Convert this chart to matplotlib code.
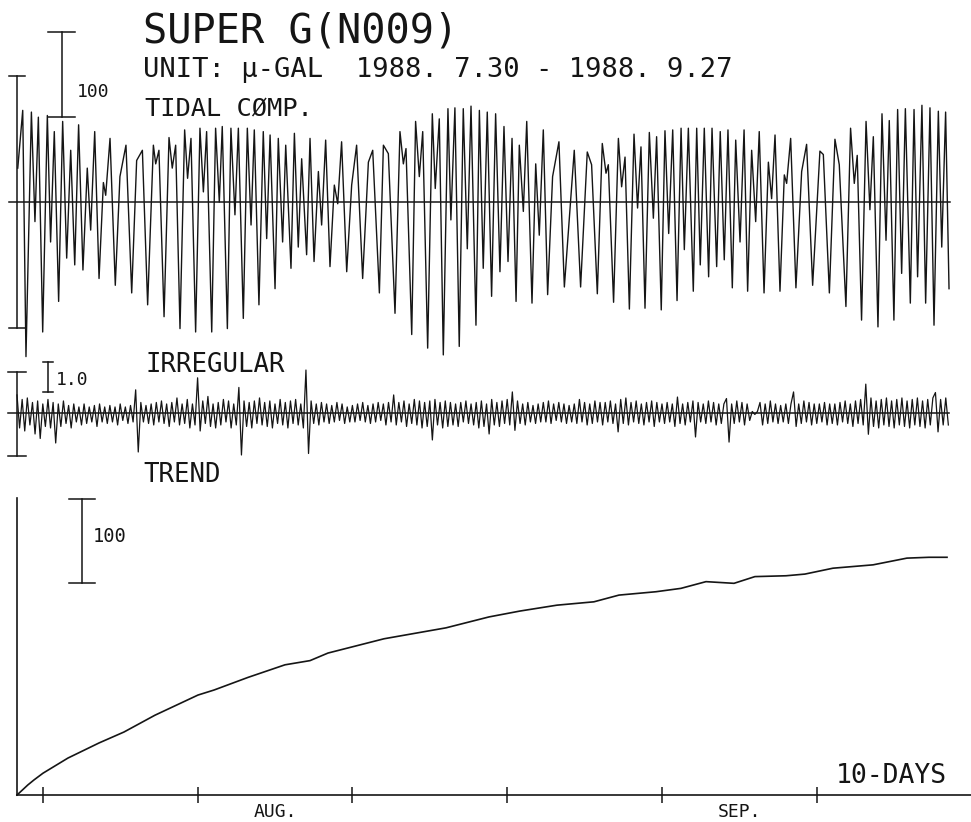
import numpy as np
import matplotlib
matplotlib.use("Agg")
import matplotlib.pyplot as plt

W, H = 971, 822
INK = "#151515"
plt.rcParams['font.family'] = ['DejaVu Sans Mono', 'DejaVu Sans']

# ---- data (days from record start, values in micro-gal) ----
START = np.datetime64('1988-07-30T08:00')

# tidal component: turning points
TIDE_DAY = [
    0.05, 0.37, 0.58, 0.93, 1.16, 1.38, 1.66, 1.96, 2.17, 2.41,
    2.69, 2.95, 3.21, 3.47, 3.73, 3.98, 4.26, 4.54, 4.76, 5.02,
    5.30, 5.58, 5.73, 6.01, 6.35, 6.65, 7.04, 7.41, 7.73, 8.10,
    8.44, 8.81, 8.96, 9.17, 9.50, 9.82, 10.03, 10.25, 10.53, 10.83,
    11.02, 11.24, 11.54,
    11.82, 12.04, 12.25, 12.58, 12.83, 13.07, 13.26, 13.59, 13.82, 14.08,
    14.30, 14.62, 14.88, 15.12, 15.33, 15.63, 15.91, 16.13, 16.35, 16.67,
    16.88, 17.16, 17.36, 17.70, 17.92, 18.17, 18.39, 18.71, 18.93, 19.19,
    19.47, 19.68, 19.94, 20.22, 20.50, 20.72, 20.97, 21.30, 21.62, 21.94,
    22.33, 22.70, 22.98, 23.41, 23.67,
    23.99, 24.42, 24.74, 24.96, 25.13, 25.50, 25.75, 25.99, 26.21, 26.53,
    26.83, 27.02, 27.28, 27.54, 27.84, 28.03, 28.29, 28.57, 28.83, 29.09,
    29.33, 29.65, 29.87, 30.12, 30.38, 30.66, 30.92, 31.20, 31.46, 31.72,
    31.98, 32.24, 32.45, 32.71, 32.93, 33.27, 33.51, 33.74, 34.00, 34.28,
    34.60, 35.01, 35.36,
    36.00, 36.41, 36.84, 37.12, 37.49, 37.81, 38.05, 38.20, 38.54, 38.85,
    39.06, 39.28, 39.56, 39.86, 40.09, 40.31, 40.57, 40.85, 41.11, 41.32,
    41.62, 41.86, 42.10, 42.36, 42.64, 42.90, 43.11, 43.37, 43.69, 43.91,
    44.14, 44.40, 44.68, 44.90, 45.20, 45.43, 45.69, 45.93, 46.21, 46.43,
    46.71, 46.97, 47.20, 47.46,
    47.72, 47.95, 48.26, 48.54, 48.75, 48.97, 49.29, 49.57, 49.72, 49.98,
    50.32, 50.69, 51.01, 51.40, 51.87, 52.09, 52.48, 52.84, 53.12, 53.55,
    53.85, 54.09, 54.28, 54.56, 54.85, 55.10, 55.32, 55.62, 55.88, 56.14,
    56.35, 56.65, 56.89, 57.15, 57.39, 57.71, 57.95, 58.18, 58.46, 58.70,
    58.98, 59.24, 59.52, 59.74, 59.99, 60.21,
]
TIDE_VAL = [
    40, 108, -182, 106, -23, 100, -153, 102, -47, 83,
    -117, 95, -66, 61, -74, 91, -80, 40, -33, 83,
    -90, 23, 8, 75, -98, 30, 67, -107, 49, 61,
    -121, 67, 45, 61, -135, 76, 40, 67, -149, 85,
    28, 75, -153,
    87, 12, 83, -153, 87, 0, 89, -149, 87, -15,
    87, -137, 87, -27, 85, -121, 83, -43, 79, -102,
    75, -47, 67, -78, 81, -53, 51, -62, 75, -70,
    36, -27, 73, -76, 20, -2, 71, -82, 20, 67,
    -90, 47, 61, -107, 67,
    57, -131, 83, 45, 63, -156, 95, 30, 83, -172,
    104, 16, 98, -180, 110, -21, 111, -170, 110, -55,
    113, -145, 108, -78, 106, -111, 104, -82, 89, -70,
    75, -117, 67, -11, 95, -119, 45, -39, 85, -109,
    30, 71, -100,
    61, -100, 59, 44, -108, 69, 34, 44, -118, 75,
    18, 53, -126, 80, -7, 65, -125, 82, -19, 77,
    -127, 84, -37, 85, -116, 87, -56, 87, -105, 87,
    -74, 87, -88, 87, -76, 83, -68, 85, -101, 73,
    -47, 85, -105, 61,
    -23, 83, -107, 47, 4, 79, -105, 32, 22, 75,
    -101, 36, 68, -98, 60, 56, -107, 74, 44, -123,
    87, 22, 55, -139, 95, -9, 77, -147, 104, -45,
    96, -139, 109, -84, 110, -119, 109, -88, 114, -119,
    111, -145, 107, -53, 106, -102,
]

# irregular component, one reading every 4 hours (6 per day, 2 days per row)
IRR_STEP_H = 4
IRR_VAL = [
    0.6, -0.5, 0.45, -0.6, 0.5, -0.4, 0.35, -0.7, 0.4, -0.85, 0.3, -0.45,
    0.45, -0.5, 0.35, -1.0, 0.3, -0.45, 0.4, -0.35, 0.25, -0.5, 0.3, -0.3,
    0.2, -0.4, 0.3, -0.35, 0.2, -0.3, 0.25, -0.45, 0.3, -0.3, 0.2, -0.35,
    0.25, -0.3, 0.2, -0.4, 0.3, -0.25, 0.2, -0.35, 0.25, -0.3, 0.77, -1.3,
    0.35, -0.3, 0.25, -0.35, 0.3, -0.4, 0.35, -0.3, 0.4, -0.35, 0.3, -0.45,
    0.35, -0.3, 0.5, -0.4, 0.3, -0.35, 0.45, -0.5, 0.3, -0.4, 1.17, -0.6,
    0.4, -0.35, 0.55, -0.45, 0.3, -0.5, 0.35, -0.4, 0.45, -0.3, 0.4, -0.5,
    0.3, -0.4, 0.85, -1.4, 0.4, -0.45, 0.35, -0.5, 0.4, -0.35, 0.5, -0.4,
    0.35, -0.45, 0.4, -0.5, 0.3, -0.35, 0.45, -0.4, 0.35, -0.5, 0.4, -0.35,
    0.45, -0.4, 0.3, -0.5, 1.43, -1.35, 0.4, -0.35, 0.3, -0.4, 0.35, -0.3,
    0.3, -0.35, 0.25, -0.3, 0.35, -0.25, 0.3, -0.35, 0.2, -0.3, 0.25, -0.3,
    0.3, -0.25, 0.35, -0.3, 0.25, -0.35, 0.3, -0.3, 0.35, -0.25, 0.3, -0.4,
    0.35, -0.3, 0.6, -0.4, 0.35, -0.3, 0.4, -0.45, 0.3, -0.35, 0.45, -0.4,
    0.4, -0.5, 0.35, -0.45, 0.4, -0.9, 0.45, -0.4, 0.35, -0.5, 0.4, -0.45,
    0.35, -0.4, 0.3, -0.45, 0.35, -0.3, 0.4, -0.35, 0.3, -0.4, 0.35, -0.5,
    0.4, -0.45, 0.3, -0.7, 0.45, -0.4, 0.35, -0.45, 0.4, -0.35, 0.45, -0.4,
    0.7, -0.58, 0.4, -0.35, 0.3, -0.4, 0.35, -0.3, 0.25, -0.35, 0.3, -0.3,
    0.35, -0.3, 0.4, -0.35, 0.3, -0.25, 0.35, -0.3, 0.3, -0.35, 0.25, -0.3,
    0.3, -0.35, 0.45, -0.3, 0.35, -0.4, 0.3, -0.35, 0.4, -0.3, 0.35, -0.4,
    0.35, -0.3, 0.4, -0.35, 0.3, -0.63, 0.45, -0.35, 0.5, -0.4, 0.35, -0.3,
    0.4, -0.35, 0.3, -0.4, 0.35, -0.3, 0.4, -0.45, 0.35, -0.3, 0.3, -0.35,
    0.35, -0.3, 0.3, -0.45, 0.53, -0.35, 0.3, -0.4, 0.35, -0.3, 0.4, -0.8,
    0.35, -0.3, 0.3, -0.35, 0.4, -0.3, 0.35, -0.4, 0.3, -0.35, 0.3, 0.48,
    -0.97, 0.3, -0.35, 0.4, -0.3, 0.35, -0.4, 0.3, -0.25, 0.05, -0.05, 0.05,
    0.35, -0.4, 0.3, -0.35, 0.4, -0.3, 0.3, -0.35, 0.25, -0.3, 0.3, -0.35,
    0.3, 0.7, -0.45, 0.3, -0.35, 0.4, -0.3, 0.35, -0.4, 0.3, -0.35, 0.3,
    -0.3, 0.35, -0.4, 0.3, -0.35, 0.3, -0.4, 0.35, -0.3, 0.4, -0.35, 0.3,
    -0.45, 0.4, -0.35, 0.45, -0.4, 0.96, -0.71, 0.5, -0.45, 0.4, -0.5, 0.45,
    -0.4, 0.5, -0.45, 0.4, -0.5, 0.45, -0.4, 0.5, -0.45, 0.4, -0.5, 0.45,
    -0.4, 0.5, -0.45, 0.4, -0.5, 0.45, -0.4, 0.5, 0.68, -0.63, 0.45, -0.4,
    0.5, -0.4,
]

# trend (instrumental drift)
TREND_DAY = [0.0, 0.7, 1.1, 1.68, 3.29, 5.30, 6.91, 8.91, 11.69, 12.73,
             14.92, 17.31, 18.93, 20.09, 23.71, 27.71, 30.49, 32.49, 34.88,
             37.27, 38.89, 41.28, 42.89, 44.51, 46.32, 47.67, 49.68, 50.90,
             52.71, 55.30, 57.49, 58.91, 60.08]
TREND_VAL = [0, 12, 18, 26, 44, 62, 75, 95, 119, 125,
             140, 155, 160, 169, 186, 199, 212, 219, 226,
             230, 238, 242, 246, 254, 252, 260, 261, 263,
             270, 274, 282, 283, 283]

TICK_DATES = ['1988-08-01', '1988-08-11', '1988-08-21', '1988-08-31',
              '1988-09-10', '1988-09-20']
MONTH_LABELS = [('1988-08-16', 'AUG.'), ('1988-09-15', 'SEP.')]


def days_from_start(dates):
    d = np.array(dates, dtype='datetime64[m]')
    return (d - START) / np.timedelta64(1, 'D')


# ---- figure ----
XLIM = (-1.098, 61.63)
fig = plt.figure(figsize=(W / 100, H / 100), dpi=100)


def add_panel(top, bottom, ylim):
    ax = fig.add_axes([0, 1 - bottom / H, 1, (bottom - top) / H])
    ax.set_xlim(XLIM)
    ax.set_ylim(ylim)
    ax.patch.set_alpha(0)
    return ax


def ibar(ax, x, y0, y1, half, lw=1.1):
    ax.plot([x, x], [y0, y1], color=INK, lw=lw, clip_on=False)
    for y in (y0, y1):
        ax.plot([x - half, x + half], [y, y], color=INK, lw=lw, clip_on=False)


def ftext(x, y, s, size, ha='left'):
    fig.text(x / W, 1 - y / H, s, fontsize=size, ha=ha, va='baseline', color=INK)


# tidal component
ax1 = add_panel(0, 360, (-186, 238))
ax1.axis('off')
ax1.plot([-0.5, 60.3], [0, 0], color=INK, lw=1.1)
ax1.plot(TIDE_DAY, TIDE_VAL, color=INK, lw=1.0, clip_on=False)
ibar(ax1, 0, -148, 149, 0.5)
ibar(ax1, 2.9, 100, 200, 0.87)

# irregular component
irr_day = np.arange(len(IRR_VAL)) * IRR_STEP_H / 24.0
ax2 = add_panel(340, 470, (-1.9, 2.43))
ax2.axis('off')
ax2.plot([-0.6, 60.2], [0, 0], color=INK, lw=1.1)
ax2.plot(irr_day, IRR_VAL, color=INK, lw=0.9)
ibar(ax2, 0, -1.43, 1.37, 0.58)
ibar(ax2, 2.0, 0.7, 1.7, 0.33)

# trend
ax3 = add_panel(470, 822, (-32.1, 386.9))
ax3.plot(TREND_DAY, TREND_VAL, color=INK, lw=1.2)
for s in ('top', 'right'):
    ax3.spines[s].set_visible(False)
ax3.spines['left'].set_position(('data', 0))
ax3.spines['bottom'].set_position(('data', 0))
ax3.spines['left'].set_bounds(0, 354)
ax3.spines['bottom'].set_bounds(0, XLIM[1])
for s in ('left', 'bottom'):
    ax3.spines[s].set_linewidth(1.2)
    ax3.spines[s].set_color(INK)
ax3.set_yticks([])
ax3.set_xticks(days_from_start(TICK_DATES))
ax3.tick_params(axis='x', direction='inout', length=11.5, width=1.1,
                color=INK, labelbottom=False)
ibar(ax3, 4.2, 252, 352, 0.84)
for date, lab in MONTH_LABELS:
    ax3.text(days_from_start([date])[0], 0.014, lab, fontsize=13, ha='center',
             va='baseline', color=INK, transform=ax3.get_xaxis_transform())

# labels
ftext(143, 43, 'SUPER G(N009)', 29)
ftext(143, 77, 'UNIT: \u00b5-GAL  1988. 7.30 - 1988. 9.27', 19.5)
ftext(145, 115, 'TIDAL C\u00d8MP.', 18.3)
ftext(77, 97, '100', 13)
ftext(145, 372, 'IRREGULAR', 18.5)
ftext(56, 385, '1.0', 13)
ftext(143, 482, 'TREND', 18.5)
ftext(93, 542, '100', 13.5)
ftext(947, 783, '10-DAYS', 19, ha='right')

fig.savefig('out.png', dpi=100)
